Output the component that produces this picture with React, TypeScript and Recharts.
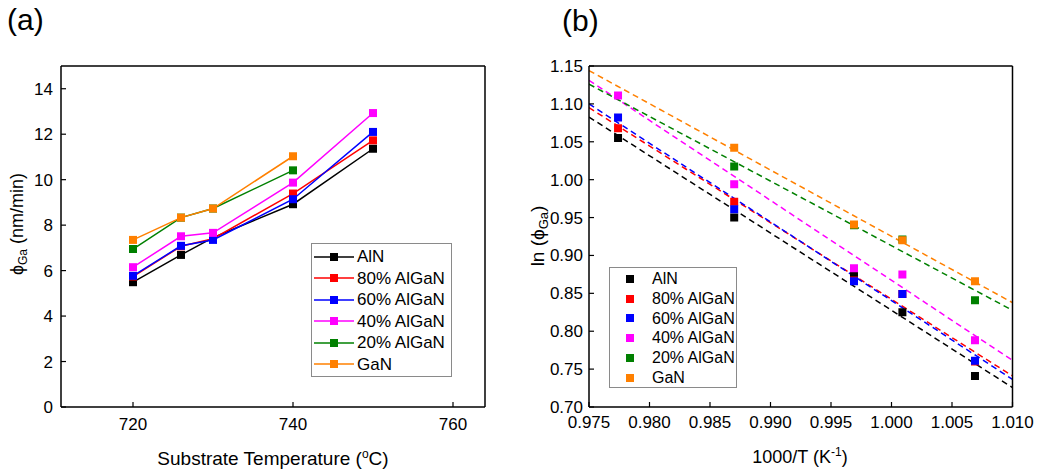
import React from 'react';
import {
  LineChart, Line, XAxis, YAxis, ComposedChart, Scatter, Legend,
} from 'recharts';

// ---------- Panel (a) data ----------
const temperatures = [720, 726, 730, 740, 750];
const phiAlN = [5.49, 6.69, 7.45, 8.92, 11.36];
const phi80 = [5.74, 7.07, 7.4, 9.39, 11.73];
const phi60 = [5.77, 7.09, 7.35, 9.14, 12.1];
const phi40 = [6.15, 7.51, 7.66, 9.87, 12.93];
const phi20 = [6.95, 8.33, 8.73, 10.41, null];
const phiGaN = [7.35, 8.33, 8.73, 11.03, null];

const tempTicks = [720, 740, 760];
const tempMinorTicks = [730, 750];
const tempDomain = [711, 764];
const phiTicks = [0, 2, 4, 6, 8, 10, 12, 14];
const phiMinorTicks = [1, 3, 5, 7, 9, 11, 13];
const phiDomain = [0, 15];

// ---------- Panel (b) data ----------
const invT = [0.9774, 0.987, 0.9969, 1.0009, 1.0069];
const lnAlN = [1.055, 0.95, 0.874, 0.825, 0.741];
const ln80 = [1.068, 0.971, 0.867, 0.849, 0.76];
const ln60 = [1.082, 0.961, 0.866, 0.849, 0.761];
const ln40 = [1.111, 0.994, 0.883, 0.875, 0.788];
const ln20 = [null, 1.0175, 0.94, 0.921, 0.841];
const lnGaN = [null, 1.042, 0.941, 0.92, 0.866];

const fitX = [0.975, 1.01];
const fitAlN = [1.0826, 0.7256];
const fit80 = [1.095, 0.741];
const fit60 = [1.1, 0.7365];
const fit40 = [1.131, 0.7616];
const fit20 = [1.126, 0.8276];
const fitGaN = [1.144, 0.8377];

const invTTicks = [0.975, 0.98, 0.985, 0.99, 0.995, 1.0, 1.005, 1.01];
const invTMinorTicks = [0.9775, 0.9825, 0.9875, 0.9925, 0.9975, 1.0025, 1.0075];
const invTDomain = [0.975, 1.01];
const lnTicks = [0.7, 0.75, 0.8, 0.85, 0.9, 0.95, 1.0, 1.05, 1.1, 1.15];
const lnMinorTicks = [0.725, 0.775, 0.825, 0.875, 0.925, 0.975, 1.025, 1.075, 1.125];
const lnDomain = [0.7, 1.15];

const seriesNames = ['AlN', '80% AlGaN', '60% AlGaN', '40% AlGaN', '20% AlGaN', 'GaN'];
const seriesColors = ['#000000', '#ff0000', '#0000ff', '#ff00ff', '#008000', '#ff8000'];

const phiSeries = [phiAlN, phi80, phi60, phi40, phi20, phiGaN];
const lnSeries = [lnAlN, ln80, ln60, ln40, ln20, lnGaN];
const fitSeries = [fitAlN, fit80, fit60, fit40, fit20, fitGaN];

// tables built from arrays
const tableA = temperatures.map((t, i) => {
  const row: any = { T: t };
  phiSeries.forEach((s, k) => { row['s' + k] = s[i]; });
  return row;
});
const scatterB = lnSeries.map((s) =>
  invT.map((x, i) => ({ x, y: s[i] })).filter((p) => p.y !== null)
);
const fitB = fitSeries.map((s) => fitX.map((x, i) => ({ x, y: s[i] })));

const FONT = 'Arial, "Liberation Sans", Helvetica, sans-serif';
const AX = '#000';
const THIN = 0.001;

const squareDot = (color: string) => (props: any) => {
  const { cx, cy, index, value } = props;
  if (cx == null || cy == null || value == null || Number.isNaN(cy)) return <g key={'d' + index} />;
  return <rect key={'d' + index} x={cx - 4} y={cy - 4} width={8} height={8} fill={color} />;
};

const tickStyle = { fontSize: 17, fill: '#000', fontFamily: FONT };

const orderPayload = (payload: any[]) =>
  payload
    .filter((p: any) => p.type !== 'none' && seriesNames.indexOf(p.value) >= 0)
    .slice()
    .sort((a: any, b: any) => seriesNames.indexOf(a.value) - seriesNames.indexOf(b.value));

const LegendA = (props: any) => {
  const payload = orderPayload(props.payload || []);
  return (
    <div style={{ width: 141, height: 134, boxSizing: 'border-box', border: '1px solid #8a8a8a', background: '#fff', paddingTop: 2, fontFamily: FONT }}>
      {payload.map((p: any, i: number) => (
        <div key={i} style={{ height: 21.5, position: 'relative' }}>
          <svg width={44} height={12} style={{ position: 'absolute', left: 1, top: 4.75 }}>
            <line x1={1} y1={6} x2={41} y2={6} stroke={p.color} strokeWidth={1.5} />
            <rect x={17} y={2} width={8} height={8} fill={p.color} />
          </svg>
          <span style={{ position: 'absolute', left: 45, fontSize: 17, color: '#000', lineHeight: '21.5px', top: 0, whiteSpace: 'nowrap' }}>{p.value}</span>
        </div>
      ))}
    </div>
  );
};

const LegendB = (props: any) => {
  const payload = orderPayload(props.payload || []);
  return (
    <div style={{ width: 128, height: 121, boxSizing: 'border-box', border: '1px solid #8a8a8a', background: '#fff', paddingTop: 1, fontFamily: FONT }}>
      {payload.map((p: any, i: number) => (
        <div key={i} style={{ height: 19.8, position: 'relative' }}>
          <svg width={10} height={10} style={{ position: 'absolute', left: 15, top: 4.9 }}>
            <rect x={1} y={1} width={8} height={8} fill={p.color} />
          </svg>
          <span style={{ position: 'absolute', left: 42, fontSize: 16, color: '#000', lineHeight: '19.8px', top: 0, whiteSpace: 'nowrap' }}>{p.value}</span>
        </div>
      ))}
    </div>
  );
};

const textBase: React.CSSProperties = { position: 'absolute', fontFamily: FONT, color: '#000', whiteSpace: 'nowrap', lineHeight: 1 };

const axLine = { stroke: AX, strokeWidth: 1.5 };
const tkLine = { stroke: AX, strokeWidth: 1.2 };

export default function App() {
  return (
    <div style={{ position: 'absolute', left: 0, top: 0, width: 1040, height: 471, background: '#fff', overflow: 'hidden' }}>
      {/* Panel (a) */}
      <div style={{ position: 'absolute', left: 0, top: 0 }}>
        <LineChart width={520} height={471} data={tableA} margin={{ top: 66, right: 35, bottom: 64, left: 61 }}>
          <XAxis dataKey="T" type="number" domain={tempDomain} ticks={tempTicks} interval={0} allowDataOverflow
            height={THIN} tickSize={-5} tickMargin={16} axisLine={axLine} tickLine={tkLine} tick={tickStyle} />
          <XAxis xAxisId="bm" type="number" domain={tempDomain} ticks={tempMinorTicks} interval={0} allowDataOverflow
            height={THIN} tickSize={-3} axisLine={false} tickLine={tkLine} tick={false} />
          <XAxis xAxisId="top" orientation="top" type="number" domain={tempDomain} ticks={tempTicks} interval={0} allowDataOverflow
            height={THIN} tickSize={-5} axisLine={axLine} tickLine={tkLine} tick={false} />
          <XAxis xAxisId="tm" orientation="top" type="number" domain={tempDomain} ticks={tempMinorTicks} interval={0} allowDataOverflow
            height={THIN} tickSize={-3} axisLine={false} tickLine={tkLine} tick={false} />
          <YAxis type="number" domain={phiDomain} ticks={phiTicks} interval={0} allowDataOverflow width={THIN}
            tickSize={-5} tickMargin={13} axisLine={axLine} tickLine={tkLine} tick={tickStyle} />
          <YAxis yAxisId="lm" type="number" domain={phiDomain} ticks={phiMinorTicks} interval={0} allowDataOverflow width={THIN}
            tickSize={-3} axisLine={false} tickLine={tkLine} tick={false} />
          <YAxis yAxisId="right" orientation="right" type="number" domain={phiDomain} ticks={phiTicks} interval={0} allowDataOverflow width={THIN}
            tickSize={-5} axisLine={axLine} tickLine={tkLine} tick={false} />
          <YAxis yAxisId="rm" orientation="right" type="number" domain={phiDomain} ticks={phiMinorTicks} interval={0} allowDataOverflow width={THIN}
            tickSize={-3} axisLine={false} tickLine={tkLine} tick={false} />
          <Legend layout="vertical" align="center" verticalAlign="middle" content={<LegendA />}
            wrapperStyle={{ left: 311, top: 243, right: 'auto', bottom: 'auto', width: 141, height: 134 }} />
          {seriesNames.map((name, k) => (
            <Line key={name} name={name} dataKey={'s' + k} stroke={seriesColors[k]} strokeWidth={1.5} type="linear"
              dot={squareDot(seriesColors[k])} activeDot={false} isAnimationActive={false} />
          ))}
        </LineChart>
      </div>

      {/* Panel (b) */}
      <div style={{ position: 'absolute', left: 520, top: 0 }}>
        <ComposedChart width={520} height={471} margin={{ top: 66, right: 27.5, bottom: 64, left: 69 }}>
          <XAxis dataKey="x" type="number" domain={invTDomain} ticks={invTTicks} interval={0} allowDataOverflow
            height={THIN} tickSize={-5} tickMargin={14} axisLine={axLine} tickLine={tkLine}
            tick={tickStyle} tickFormatter={(v: number) => v.toFixed(3)} />
          <XAxis xAxisId="bm" type="number" domain={invTDomain} ticks={invTMinorTicks} interval={0} allowDataOverflow
            height={THIN} tickSize={-3} axisLine={false} tickLine={tkLine} tick={false} />
          <XAxis xAxisId="top" orientation="top" type="number" domain={invTDomain} ticks={invTTicks} interval={0} allowDataOverflow
            height={THIN} tickSize={-5} axisLine={axLine} tickLine={tkLine} tick={false} />
          <XAxis xAxisId="tm" orientation="top" type="number" domain={invTDomain} ticks={invTMinorTicks} interval={0} allowDataOverflow
            height={THIN} tickSize={-3} axisLine={false} tickLine={tkLine} tick={false} />
          <YAxis dataKey="y" type="number" domain={lnDomain} ticks={lnTicks} interval={0} allowDataOverflow width={THIN}
            tickSize={-5} tickMargin={11} axisLine={axLine} tickLine={tkLine}
            tick={tickStyle} tickFormatter={(v: number) => v.toFixed(2)} />
          <YAxis yAxisId="lm" type="number" domain={lnDomain} ticks={lnMinorTicks} interval={0} allowDataOverflow width={THIN}
            tickSize={-3} axisLine={false} tickLine={tkLine} tick={false} />
          <YAxis yAxisId="right" orientation="right" type="number" domain={lnDomain} ticks={lnTicks} interval={0} allowDataOverflow width={THIN}
            tickSize={-5} axisLine={axLine} tickLine={tkLine} tick={false} />
          <YAxis yAxisId="rm" orientation="right" type="number" domain={lnDomain} ticks={lnMinorTicks} interval={0} allowDataOverflow width={THIN}
            tickSize={-3} axisLine={false} tickLine={tkLine} tick={false} />
          <Legend layout="vertical" align="center" verticalAlign="middle" content={<LegendB />}
            wrapperStyle={{ left: 89, top: 267, right: 'auto', bottom: 'auto', width: 128, height: 121 }} />
          {seriesNames.map((name, k) => (
            <Line key={'fit' + name} data={fitB[k]} dataKey="y" stroke={seriesColors[k]} strokeWidth={1.5}
              strokeDasharray="6 4" type="linear" dot={false} activeDot={false} legendType="none" isAnimationActive={false} />
          ))}
          {seriesNames.map((name, k) => (
            <Scatter key={name} name={name} data={scatterB[k]} dataKey="y" fill={seriesColors[k]} shape="square"
              legendType="square" isAnimationActive={false} />
          ))}
        </ComposedChart>
      </div>

      {/* Panel labels and axis titles */}
      <div style={{ ...textBase, left: 7, top: 5, fontSize: 30 }}>(a)</div>
      <div style={{ ...textBase, left: 562, top: 6, fontSize: 30 }}>(b)</div>

      <div style={{ ...textBase, left: 273, top: 458, fontSize: 19, transform: 'translate(-50%, -50%)' }}>
        Substrate Temperature (<span style={{ fontSize: 12, position: 'relative', top: -7 }}>o</span>C)
      </div>
      <div style={{ ...textBase, left: 800, top: 457, fontSize: 18, transform: 'translate(-50%, -50%)' }}>
        1000/T (K<span style={{ fontSize: 12, position: 'relative', top: -7 }}>-1</span>)
      </div>
      <div style={{ ...textBase, left: 17, top: 224, fontSize: 18, transform: 'translate(-50%, -50%) rotate(-90deg)' }}>
        ϕ<span style={{ fontSize: 12, position: 'relative', top: 4 }}>Ga</span> (nm/min)
      </div>
      <div style={{ ...textBase, left: 537, top: 236, fontSize: 19, transform: 'translate(-50%, -50%) rotate(-90deg)' }}>
        ln (ϕ<span style={{ fontSize: 13, position: 'relative', top: 4 }}>Ga</span>)
      </div>
    </div>
  );
}
